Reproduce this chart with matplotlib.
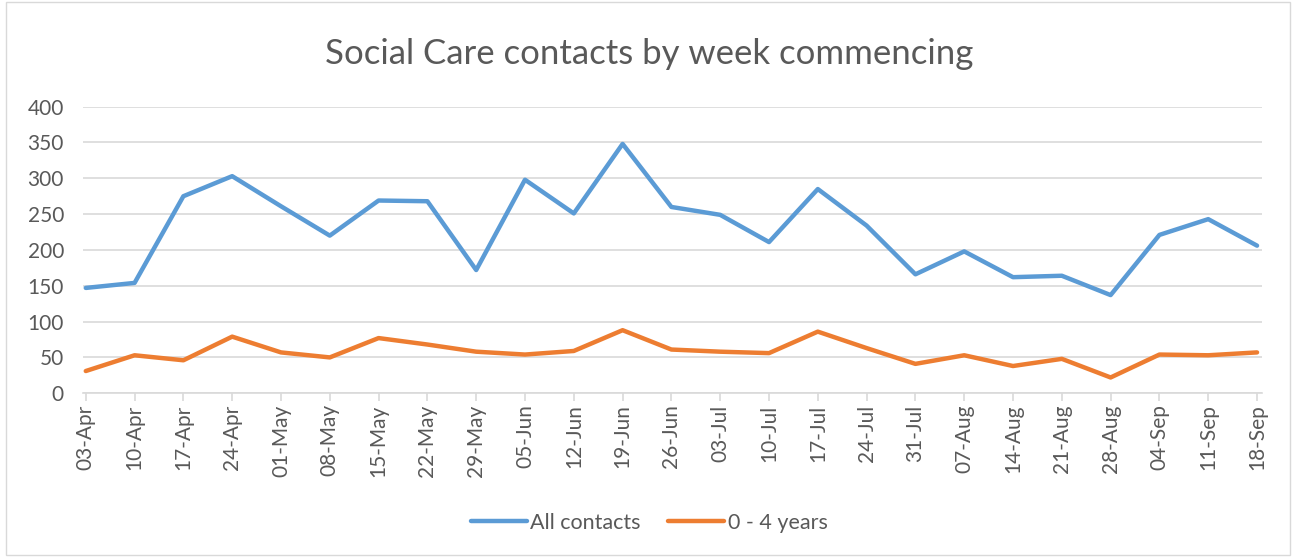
import matplotlib.pyplot as plt
from matplotlib.patches import Rectangle

weeks = ['03-Apr', '10-Apr', '17-Apr', '24-Apr', '01-May', '08-May', '15-May',
         '22-May', '29-May', '05-Jun', '12-Jun', '19-Jun', '26-Jun', '03-Jul',
         '10-Jul', '17-Jul', '24-Jul', '31-Jul', '07-Aug', '14-Aug', '21-Aug',
         '28-Aug', '04-Sep', '11-Sep', '18-Sep']
all_contacts = [147, 154, 275, 303, 261, 220, 269, 268, 172, 298, 251, 348, 260,
                249, 211, 285, 234, 166, 198, 162, 164, 137, 221, 243, 206]
age_0_4 = [31, 53, 46, 79, 57, 50, 77, 68, 58, 54, 59, 88, 61, 58, 56, 86, 63,
           41, 53, 38, 48, 22, 54, 53, 57]

plt.rcParams['font.family'] = ['Lato', 'DejaVu Sans']
grey = '#595959'

fig = plt.figure(figsize=(12.98, 5.57), dpi=100)
ax = fig.add_axes([0.0642, 0.294, 0.908, 0.5145])

x = list(range(len(weeks)))
ax.plot(x, all_contacts, color='#5B9BD5', lw=3.2, label='All contacts',
        solid_capstyle='round', solid_joinstyle='round')
ax.plot(x, age_0_4, color='#ED7D31', lw=3.2, label='0 - 4 years',
        solid_capstyle='round', solid_joinstyle='round')

ax.set_ylim(0, 400)
ax.set_yticks(range(0, 401, 50))
ax.set_xlim(-0.05, 24.1)
ax.set_xticks(x)
ax.set_xticklabels(weeks, rotation=90)
ax.grid(axis='y', color='#d9d9d9', lw=1.2)
ax.set_axisbelow(True)
for s in ['top', 'right', 'left']:
    ax.spines[s].set_visible(False)
ax.spines['bottom'].set_color('#d9d9d9')
ax.spines['bottom'].set_linewidth(1.2)
ax.tick_params(axis='y', length=0, labelsize=15, labelcolor=grey, pad=14)
ax.tick_params(axis='x', length=6, width=1.2, color='#d9d9d9',
               labelsize=15, labelcolor=grey, pad=2)

fig.suptitle('Social Care contacts by week commencing', fontsize=25,
             color=grey, y=0.932)

fig.legend(loc='center', bbox_to_anchor=(0.5, 0.061), ncol=2, frameon=False,
           fontsize=15.5, labelcolor=grey, handlelength=2.6, handletextpad=0.15,
           columnspacing=1.3)

fig.patches.append(Rectangle((0.005, 0.004), 0.989, 0.992, transform=fig.transFigure,
                             fill=False, edgecolor='#d9d9d9', lw=1))

plt.savefig('out.png', dpi=100)
